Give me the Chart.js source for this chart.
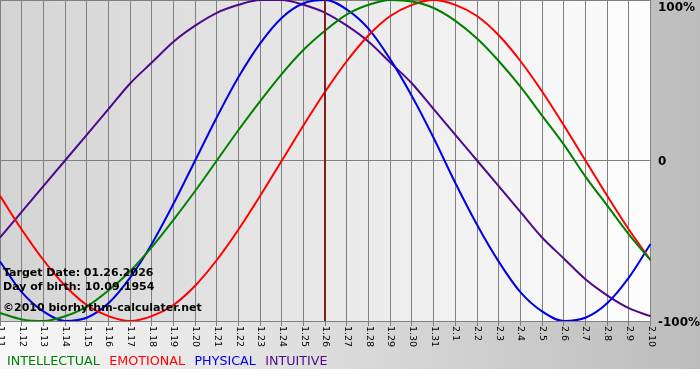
<!DOCTYPE html>
<html><head><meta charset="utf-8">
<script src="https://cdn.jsdelivr.net/npm/chart.js@4/dist/chart.umd.min.js"></script>
<style>html,body{margin:0;padding:0;background:#fff;}#wrap{position:relative;width:700px;height:380px;}</style>
</head><body><div id="wrap"><canvas id="c" width="700" height="380"></canvas></div>
<script>
const dateLabels = ["1.11","1.12","1.13","1.14","1.15","1.16","1.17","1.18","1.19","1.20","1.21","1.22","1.23","1.24","1.25","1.26","1.27","1.28","1.29","1.30","1.31","2.1","2.2","2.3","2.4","2.5","2.6","2.7","2.8","2.9","2.10"];
const intellectual = [-0.95,-0.99,-1.00,-0.97,-0.91,-0.81,-0.69,-0.54,-0.37,-0.19,0.00,0.19,0.37,0.54,0.69,0.81,0.91,0.97,1.00,0.99,0.95,0.87,0.76,0.62,0.46,0.28,0.10,-0.10,-0.28,-0.46,-0.62];
const emotional = [-0.22,-0.43,-0.62,-0.78,-0.90,-0.97,-1.00,-0.97,-0.90,-0.78,-0.62,-0.43,-0.22,0.00,0.22,0.43,0.62,0.78,0.90,0.97,1.00,0.97,0.90,0.78,0.62,0.43,0.22,0.00,-0.22,-0.43,-0.62];
const physical = [-0.63,-0.82,-0.94,-1.00,-0.98,-0.89,-0.73,-0.52,-0.27,0.00,0.27,0.52,0.73,0.89,0.98,1.00,0.94,0.82,0.63,0.40,0.14,-0.14,-0.40,-0.63,-0.82,-0.94,-1.00,-0.98,-0.89,-0.73,-0.52];
const intuitive = [-0.48,-0.32,-0.16,0.00,0.16,0.32,0.48,0.61,0.74,0.84,0.92,0.97,1.00,1.00,0.97,0.92,0.84,0.74,0.61,0.48,0.32,0.16,0.00,-0.16,-0.32,-0.48,-0.61,-0.74,-0.84,-0.92,-0.97];
const yTickValues = [1, 0, -1];
const yTickLabels = ["100%", "0", "-100%"];
const targetDate = "1.26";
const infoLines = ["Target Date: 01.26.2026", "Day of birth: 10.09.1954", "\u00A92010 biorhythm-calculater.net"];
const seriesNames = ["INTELLECTUAL", "EMOTIONAL", "PHYSICAL", "INTUITIVE"];

const colors = ["#008000", "#ff0000", "#0000e6", "#4f0a8c"];
const seriesData = [intellectual, emotional, physical, intuitive];

const decor = {
  id: 'decor',
  beforeDraw(chart) {
    const ctx = chart.ctx, a = chart.chartArea;
    ctx.save();
    ctx.fillStyle = '#ffffff';
    ctx.fillRect(0, 0, chart.width, chart.height);
    const g = ctx.createLinearGradient(0, 0, chart.width, 0);
    g.addColorStop(0, '#f8f8f8');
    g.addColorStop(1, '#bcbcbc');
    ctx.fillStyle = g;
    ctx.fillRect(0, 0, chart.width, 369);
    const pg = ctx.createLinearGradient(a.left, 0, a.right, 0);
    pg.addColorStop(0, '#d4d4d4');
    pg.addColorStop(1, '#fdfdfd');
    ctx.fillStyle = pg;
    ctx.fillRect(a.left, a.top, a.right - a.left, a.bottom - a.top);
    ctx.restore();
  },
  afterDatasetsDraw(chart) {
    const ctx = chart.ctx, a = chart.chartArea;
    const xs = chart.scales.x;
    const tx = xs.getPixelForValue(dateLabels.indexOf(targetDate));
    ctx.save();
    ctx.strokeStyle = '#841d1d';
    ctx.lineWidth = 2;
    ctx.beginPath();
    ctx.moveTo(Math.round(tx), a.top);
    ctx.lineTo(Math.round(tx), a.bottom);
    ctx.stroke();
    ctx.fillStyle = '#000';
    ctx.font = 'bold 11px "DejaVu Sans"';
    ctx.textAlign = 'left';
    ctx.textBaseline = 'alphabetic';
    ctx.fillText(infoLines[0], 3, 276);
    ctx.fillText(infoLines[1], 3, 290);
    ctx.fillText(infoLines[2], 3, 311);
    ctx.restore();
  },
  afterDraw(chart) {
    const ctx = chart.ctx, a = chart.chartArea;
    const xs = chart.scales.x, ys = chart.scales.y;
    ctx.save();
    ctx.fillStyle = '#000';
    ctx.font = '9.5px "DejaVu Sans"';
    ctx.textAlign = 'left';
    ctx.textBaseline = 'middle';
    dateLabels.forEach((lab, i) => {
      const px = xs.getPixelForTick(i);
      ctx.save();
      ctx.translate(px + 0.5, a.bottom + 5);
      ctx.rotate(Math.PI / 2);
      ctx.fillText(lab, 0, 0);
      ctx.restore();
    });
    ctx.font = 'bold 12px "DejaVu Sans"';
    yTickValues.forEach((v, i) => {
      const py = Math.max(ys.getPixelForValue(v) + 1.5, a.top + 8);
      ctx.fillText(yTickLabels[i], a.right + 7.5, py);
    });
    ctx.font = '12.7px "DejaVu Sans"';
    let lx = 7;
    seriesNames.forEach((n, i) => {
      ctx.fillStyle = colors[i];
      ctx.fillText(n, lx, 362);
      lx += ctx.measureText(n).width + 9.5;
    });
    ctx.restore();
  }
};

new Chart(document.getElementById('c'), {
  type: 'line',
  data: {
    labels: dateLabels,
    datasets: seriesNames.map((n, i) => ({
      label: n,
      data: seriesData[i],
      borderColor: colors[i],
      backgroundColor: colors[i],
      borderWidth: 2,
      pointRadius: 0,
      cubicInterpolationMode: 'monotone',
      fill: false
    }))
  },
  options: {
    responsive: false,
    animation: false,
    devicePixelRatio: 1,
    layout: { padding: 0 },
    plugins: { legend: { display: false }, tooltip: { enabled: false } },
    scales: {
      x: {
        offset: false,
        ticks: { display: false },
        grid: { color: '#808080', lineWidth: 1, drawTicks: true, tickLength: 5, tickColor: '#808080' },
        border: { display: true, color: '#808080' },
        afterFit(s) { s.height = 59; }
      },
      y: {
        position: 'right',
        min: -1, max: 1,
        ticks: { display: false, stepSize: 1 },
        grid: { color: '#808080', lineWidth: 1, drawTicks: false },
        border: { display: false },
        afterFit(s) { s.width = 49.5; }
      }
    }
  },
  plugins: [decor]
});
</script>
</body></html>
